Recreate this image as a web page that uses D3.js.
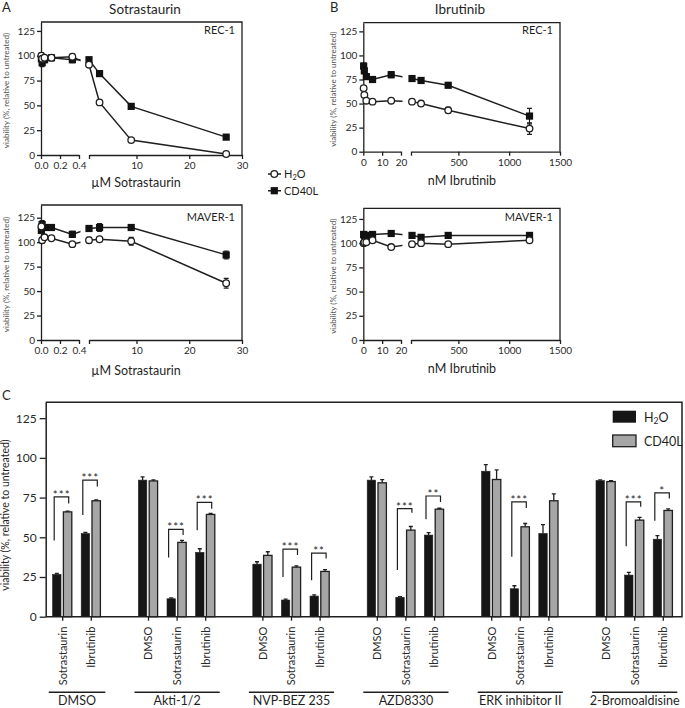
<!DOCTYPE html>
<html><head><meta charset="utf-8">
<script src="https://cdn.jsdelivr.net/npm/d3@7"></script>
<style>body{margin:0;background:#fff} svg{display:block}</style>
</head><body><svg id="c" width="685" height="708"></svg>
<script>
// ---------------- DATA ----------------
const sotraConc = [0.004, 0.012, 0.037, 0.11, 0.33, 1, 3, 9, 27];
const ibruConc  = [0.18, 0.55, 1.6, 4.9, 14.8, 44, 133, 400, 1200];

const sotraRec1H2O      = [100, 97, 98, 98, 99, 91, 53, 15, 1];
const sotraRec1H2OErr   = [3, 4, 2, 2, 3, 2, 2, 1, 1];
const sotraRec1CD40L    = [97, 93, 96, 98, 96, 96, 82, 49, 18];
const sotraRec1CD40LErr = [3, 4, 3, 3, 3, 2, 2, 1, 1];
const sotraMaverH2O      = [116, 102, 105, 104, 98, 102, 103, 101, 58];
const sotraMaverH2OErr   = [4, 3, 2, 2, 2, 3, 2, 4, 5];
const sotraMaverCD40L    = [112, 118, 115, 115, 108, 114, 115, 115, 87];
const sotraMaverCD40LErr = [3, 4, 3, 3, 3, 2, 4, 3, 4];
const ibruRec1H2O      = [66, 59, 53, 52, 53, 52, 50, 43, 24];
const ibruRec1H2OErr   = [2, 2, 1, 1, 1, 2, 1, 3, 6];
const ibruRec1CD40L    = [89, 84, 78, 75, 80, 76, 74, 69, 37];
const ibruRec1CD40LErr = [3, 3, 2, 2, 3, 2, 2, 2, 8];
const ibruMaverH2O      = [100, 101, 101, 103, 96, 99, 100, 99, 103];
const ibruMaverH2OErr   = [2, 2, 2, 2, 1, 2, 2, 1, 1];
const ibruMaverCD40L    = [109, 108, 108, 109, 110, 108, 106, 108, 108];
const ibruMaverCD40LErr = [3, 3, 2, 2, 2, 3, 2, 3, 2];

const lineYTicks = [0, 25, 50, 75, 100, 125];
const sotraLeftTicks = [0, 0.2, 0.4];
const sotraRightTicks = [10, 20, 30];
const ibruLeftTicks = [0, 10, 20];
const ibruRightTicks = [500, 1000, 1500];

// Panel C
const groups = ["DMSO", "Akti-1/2", "NVP-BEZ 235", "AZD8330", "ERK inhibitor II", "2-Bromoaldisine"];
const treatments = ["DMSO", "Sotrastaurin", "Ibrutinib"];
const groupTreatments = [
  ["Sotrastaurin", "Ibrutinib"],
  ["DMSO", "Sotrastaurin", "Ibrutinib"],
  ["DMSO", "Sotrastaurin", "Ibrutinib"],
  ["DMSO", "Sotrastaurin", "Ibrutinib"],
  ["DMSO", "Sotrastaurin", "Ibrutinib"],
  ["DMSO", "Sotrastaurin", "Ibrutinib"]
];
const barH2O      = [26.6, 52.4, 86, 11.3, 40.5, 33.1, 10.5, 13, 86, 12.2, 51.4, 91.6, 17.6, 52.4, 85.7, 26.2, 48.8];
const barH2OErr   = [0.6, 0.7, 2, 0.5, 2.3, 1.5, 0.6, 0.8, 2, 0.5, 1.6, 4.2, 1.9, 5.6, 0.4, 1.7, 2.2];
const barCD40L    = [66, 73, 85.5, 46.8, 64.4, 38.6, 31.2, 28.5, 84.3, 54.5, 67.7, 86.4, 56.6, 73, 85.1, 60.8, 66.9];
const barCD40LErr = [0.5, 0.5, 0.7, 1.3, 0.6, 2.3, 0.8, 1.2, 2, 2.3, 0.6, 6, 2.1, 4.4, 0.5, 1.7, 1];
const barYTicks = [0, 25, 50, 75, 100, 125];
// significance brackets: pair index, stars, top, left-leg bottom, right-leg bottom
const sigPair   = [0, 1, 3, 4, 6, 7, 9, 10, 12, 15, 16];
const sigStars  = ["***", "***", "***", "***", "***", "**", "***", "**", "***", "***", "*"];
const sigTop    = [75.5, 86, 55, 72, 42.6, 40, 68.1, 76, 72.3, 72.3, 78];
const sigLeftLo = [48, 64, 37.3, 54.5, 25, 23, 29.4, 61.4, 37.7, 44.4, 60.4];
const sigRightLo= [71.3, 82, 51.4, 68, 38.8, 36.7, 65.4, 72.3, 68.5, 69.2, 74.4];

// ---------------- DRAW ----------------
const FONT = 'Lato, "Open Sans", sans-serif';
const INK = '#1f1f1f';
const svg = d3.select('#c');

function text(x, y, s, size, anchor, opts) {
  const t = svg.append('text').attr('x', x).attr('y', y).text(s)
    .attr('font-family', FONT).attr('font-size', size)
    .attr('text-anchor', anchor || 'start').attr('fill', (opts && opts.fill) || INK);
  if (opts && opts.rot) t.attr('transform', `rotate(-90,${x},${y})`);
  return t;
}
function h2o(sel, size) {
  const d = size * 0.22;
  sel.append('tspan').text('H');
  sel.append('tspan').text('2').attr('font-size', size * 0.68).attr('dy', d);
  sel.append('tspan').text('O').attr('dy', -d);
}
function styleAxis(a, size) {
  a.attr('font-family', FONT);
  a.selectAll('text').attr('font-family', FONT).attr('font-size', size).attr('fill', '#2a2a2a');
  a.selectAll('line,path').attr('stroke', INK).attr('stroke-width', 1.3);
}

let clipN = 0;
function linePanel(o) {
  const g = svg.append('g');
  const y = d3.scaleLinear().domain([0, o.yTop]).range([o.y0, o.y1]);
  const xl = d3.scaleLinear().domain(o.ld).range([o.x0, o.xb0]);
  const xr = d3.scaleLinear().domain(o.rd).range([o.xb1, o.x1]);
  const X = v => v <= o.ld[1] ? xl(v) : xr(v);

  g.append('path').attr('d', `M${o.x0},${o.y1}H${o.x1}V${o.y0}`)
    .attr('fill', 'none').attr('stroke', INK).attr('stroke-width', 1.3);
  const ya = g.append('g').attr('transform', `translate(${o.x0},0)`)
    .call(d3.axisLeft(y).tickValues(lineYTicks).tickSize(4).tickSizeOuter(0).tickPadding(2));
  styleAxis(ya, 10);
  const xa1 = g.append('g').attr('transform', `translate(0,${o.y0})`)
    .call(d3.axisBottom(xl).tickValues(o.lt).tickFormat(o.lf).tickSize(4).tickSizeOuter(0));
  styleAxis(xa1, 10);
  const xa2 = g.append('g').attr('transform', `translate(0,${o.y0})`)
    .call(d3.axisBottom(xr).tickValues([o.rd[0]].concat(o.rt))
      .tickFormat(v => o.rt.includes(v) ? v : '').tickSize(4).tickSizeOuter(0));
  styleAxis(xa2, 10);

  const id = 'clip' + (clipN++);
  const cp = svg.append('clipPath').attr('id', id);
  cp.append('rect').attr('x', o.x0 - 10).attr('y', o.y1 - 10).attr('width', o.xb0 + 1.5 - (o.x0 - 10)).attr('height', o.y0 - o.y1 + 20);
  cp.append('rect').attr('x', o.xb1 - 1.5).attr('y', o.y1 - 10).attr('width', o.x1 + 10 - (o.xb1 - 1.5)).attr('height', o.y0 - o.y1 + 20);

  const line = d3.line().x(d => X(d.c)).y(d => y(d.v));
  const series = [
    {vals: o.cd, err: o.cdErr, shape: 'sq'},
    {vals: o.h2o, err: o.h2oErr, shape: 'ci'}
  ];
  series.forEach(s => {
    const pts = o.conc.map((c, i) => ({c, v: s.vals[i], e: s.err[i]}));
    g.append('path').datum(pts).attr('d', line).attr('fill', 'none')
      .attr('stroke', INK).attr('stroke-width', 1.5).attr('clip-path', `url(#${id})`);
    pts.forEach(p => {
      const px = X(p.c), yt = y(p.v + p.e), yb = y(p.v - p.e);
      g.append('path').attr('d', `M${px},${yb}V${yt}M${px - 2.5},${yt}H${px + 2.5}M${px - 2.5},${yb}H${px + 2.5}`)
        .attr('stroke', INK).attr('stroke-width', 1.2).attr('fill', 'none');
    });
    pts.forEach(p => {
      const px = X(p.c), py = y(p.v);
      if (s.shape === 'sq') g.append('rect').attr('x', px - 3.6).attr('y', py - 3.6).attr('width', 7.2).attr('height', 7.2).attr('fill', '#111');
      else g.append('circle').attr('cx', px).attr('cy', py).attr('r', 3.3).attr('fill', '#fff').attr('stroke', INK).attr('stroke-width', 1.3);
    });
  });
  text(o.x1 - 7, o.labY, o.cell, 11, 'end');
  text(o.xtX, o.xtY, o.xTitle, 12.5, 'middle');
  text(o.ytX, (o.y0 + o.y1) / 2 + 2, 'viability (%, relative to untreated)', 8, 'middle', {rot: true, fill: '#555'});
}

const f1 = d3.format('.1f');
linePanel({x0: 41, xb0: 79, xb1: 89, x1: 242, y0: 155, y1: 22, yTop: 134,
  ld: [0, 0.4], rd: [1, 30], lt: sotraLeftTicks, lf: f1, rt: sotraRightTicks,
  conc: sotraConc, h2o: sotraRec1H2O, h2oErr: sotraRec1H2OErr, cd: sotraRec1CD40L, cdErr: sotraRec1CD40LErr,
  cell: 'REC-1', labY: 33.5, xTitle: 'µM Sotrastaurin', xtX: 136, xtY: 186.5, ytX: 9});
linePanel({x0: 41, xb0: 79, xb1: 89, x1: 242, y0: 340, y1: 205, yTop: 138,
  ld: [0, 0.4], rd: [1, 30], lt: sotraLeftTicks, lf: f1, rt: sotraRightTicks,
  conc: sotraConc, h2o: sotraMaverH2O, h2oErr: sotraMaverH2OErr, cd: sotraMaverCD40L, cdErr: sotraMaverCD40LErr,
  cell: 'MAVER-1', labY: 221, xTitle: 'µM Sotrastaurin', xtX: 136, xtY: 374.5, ytX: 9});
linePanel({x0: 363.3, xb0: 401, xb1: 411, x1: 560, y0: 151.7, y1: 22.7, yTop: 134,
  ld: [0, 20], rd: [34, 1500], lt: ibruLeftTicks, lf: d3.format('d'), rt: ibruRightTicks,
  conc: ibruConc, h2o: ibruRec1H2O, h2oErr: ibruRec1H2OErr, cd: ibruRec1CD40L, cdErr: ibruRec1CD40LErr,
  cell: 'REC-1', labY: 33.5, xTitle: 'nM Ibrutinib', xtX: 462, xtY: 185, ytX: 336});
linePanel({x0: 363.3, xb0: 401, xb1: 411, x1: 560, y0: 340, y1: 208.3, yTop: 136,
  ld: [0, 20], rd: [34, 1500], lt: ibruLeftTicks, lf: d3.format('d'), rt: ibruRightTicks,
  conc: ibruConc, h2o: ibruMaverH2O, h2oErr: ibruMaverH2OErr, cd: ibruMaverCD40L, cdErr: ibruMaverCD40LErr,
  cell: 'MAVER-1', labY: 221, xTitle: 'nM Ibrutinib', xtX: 462, xtY: 373, ytX: 336});

// panel letters + titles
text(2, 12, 'A', 13);
text(330, 12, 'B', 13);
text(2, 400, 'C', 13);
text(145, 13.5, 'Sotrastaurin', 13.5, 'middle');
text(460, 13.5, 'Ibrutinib', 13.5, 'middle');

// line legend
svg.append('path').attr('d', 'M268,174H281M268,190.7H281').attr('stroke', INK).attr('stroke-width', 1.5);
svg.append('circle').attr('cx', 274.3).attr('cy', 174).attr('r', 3.3).attr('fill', '#fff').attr('stroke', INK).attr('stroke-width', 1.3);
svg.append('rect').attr('x', 270.7).attr('y', 187.1).attr('width', 7.2).attr('height', 7.2).attr('fill', '#111');
h2o(text(284, 178, '', 11), 11);
text(284, 195, 'CD40L', 11);

// ---------------- PANEL C ----------------
const cL = 45.7, cR = 682, cT = 402.3, cB = 616.7;
const yC = d3.scaleLinear().domain([0, 135]).range([cB, cT]);
const slotKeys = [];
groups.forEach((g, i) => { treatments.forEach(t => slotKeys.push(g + '|' + t)); slotKeys.push('gap' + i); });
const xC = d3.scalePoint().domain(slotKeys).range([33.6, 33.6 + 28.6 * 23]);
const xIn = d3.scaleBand().domain(['H2O', 'CD40L']).range([-9.6, 9.6]).paddingInner(0.22);

const pairs = [];
groups.forEach((g, gi) => groupTreatments[gi].forEach(t => pairs.push({g, t, key: g + '|' + t})));
pairs.forEach((p, i) => { p.h = barH2O[i]; p.he = barH2OErr[i]; p.c = barCD40L[i]; p.ce = barCD40LErr[i]; });

const gC = svg.append('g');
gC.append('path').attr('d', `M${cL},${cT}H${cR}V${cB}H${cL}`).attr('fill', 'none').attr('stroke', INK).attr('stroke-width', 1.5);
const yaC = gC.append('g').attr('transform', `translate(${cL},0)`)
  .call(d3.axisLeft(yC).tickValues(barYTicks).tickSize(6).tickSizeOuter(0).tickPadding(3));
styleAxis(yaC, 12);
yaC.select('.domain').attr('stroke-width', 1.5);
const xaC = gC.append('g').attr('transform', `translate(0,${cB})`)
  .call(d3.axisBottom(xC).tickValues(pairs.map(p => p.key)).tickFormat(k => k.split('|')[1]).tickSize(4).tickSizeOuter(0));
styleAxis(xaC, 11);
xaC.select('.domain').remove();
xaC.selectAll('text').attr('transform', 'rotate(-90)').attr('x', -10).attr('y', 0).attr('dy', '0.35em').attr('text-anchor', 'end');

pairs.forEach(p => {
  const cx = xC(p.key);
  [['H2O', p.h, p.he, '#161616'], ['CD40L', p.c, p.ce, '#a6a6a6']].forEach(([s, v, e, col]) => {
    const x0 = cx + xIn(s), w = xIn.bandwidth(), mid = x0 + w / 2;
    gC.append('path').attr('d', `M${mid},${yC(v)}V${yC(v + e)}M${mid - 2},${yC(v + e)}H${mid + 2}`)
      .attr('stroke', INK).attr('stroke-width', 1.3).attr('fill', 'none');
    gC.append('rect').attr('x', x0).attr('y', yC(v)).attr('width', w).attr('height', yC(0) - yC(v))
      .attr('fill', col).attr('stroke', INK).attr('stroke-width', s === 'CD40L' ? 1.3 : 0.6);
  });
});

sigPair.forEach((pi, i) => {
  const cx = xC(pairs[pi].key);
  gC.append('path').attr('d', `M${cx - 8},${yC(sigLeftLo[i])}V${yC(sigTop[i])}H${cx + 6.5}V${yC(sigRightLo[i])}`)
    .attr('fill', 'none').attr('stroke', INK).attr('stroke-width', 1.2);
  svg.append('text').attr('x', cx - 0.5).attr('y', yC(sigTop[i]) + 2).text(sigStars[i])
    .attr('font-family', FONT).attr('font-size', 11.5).attr('text-anchor', 'middle')
    .attr('letter-spacing', 1).attr('fill', INK);
});

groups.forEach((g, gi) => {
  const keys = groupTreatments[gi].map(t => g + '|' + t);
  const a = xC(keys[0]) - 13.5, b = xC(keys[keys.length - 1]) + 14.5;
  gC.append('path').attr('d', `M${a},692.3H${b}`).attr('stroke', INK).attr('stroke-width', 1.6);
  text((a + b) / 2, 705, g, 12.5, 'middle');
});

text(9, 515, 'viability (%, relative to untreated)', 10.5, 'middle', {rot: true});

// bar legend
gC.append('rect').attr('x', 612.7).attr('y', 410.7).attr('width', 23.3).attr('height', 12).attr('fill', '#161616');
gC.append('rect').attr('x', 612.7).attr('y', 435).attr('width', 23.3).attr('height', 11.7).attr('fill', '#a6a6a6').attr('stroke', INK).attr('stroke-width', 1.3);
h2o(text(644, 421.5, '', 12.5), 12.5);
text(644, 446, 'CD40L', 12.5);
</script>
</body></html>
